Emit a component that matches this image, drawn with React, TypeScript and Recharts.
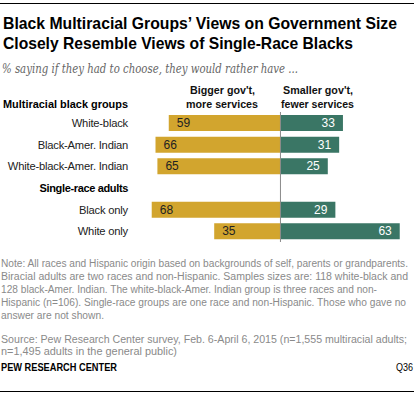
import React from 'react';
import { BarChart, Bar, XAxis, YAxis, ReferenceLine, LabelList } from 'recharts';

const categories = [
  'White-black',
  'Black-Amer. Indian',
  'White-black-Amer. Indian',
  'Single-race adults',
  'Black only',
  'White only',
];
const biggerGov: (number | null)[] = [59, 66, 65, null, 68, 35];
const smallerGov: (number | null)[] = [33, 31, 25, null, 29, 63];
const groupHeaders = ['Multiracial black groups', 'Single-race adults'];
const biggerHeader = ["Bigger gov't,", 'more services'];
const smallerHeader = ["Smaller gov't,", 'fewer services'];
const titleLines = [
  'Black Multiracial Groups\u2019 Views on Government Size',
  'Closely Resemble Views of Single-Race Blacks',
];
const subtitle = '% saying if they had to choose, they would rather have ...';
const noteLines = [
  'Note: All races and Hispanic origin based on backgrounds of self, parents or grandparents.',
  'Biracial adults are two races and non-Hispanic. Samples sizes are: 118 white-black and',
  '128 black-Amer. Indian. The white-black-Amer. Indian group is three races and non-',
  'Hispanic (n=106). Single-race groups are one race and non-Hispanic. Those who gave no',
  'answer are not shown.',
];
const noteWidths = [407, 407, 376, 405, 103];
const sourceLines = [
  'Source: Pew Research Center survey, Feb. 6-April 6, 2015 (n=1,555 multiracial adults;',
  'n=1,495 adults in the general public)',
];
const sourceWidths = [406, 176];
const footerLeft = 'PEW RESEARCH CENTER';
const footerRight = 'Q36';

const GOLD = '#D2A52E';
const GREEN = '#3A7665';
const FONT = '"Liberation Sans", Arial, sans-serif';

const data = categories.map((c, i) => ({
  name: c,
  bigger: biggerGov[i] == null ? null : -(biggerGov[i] as number),
  smaller: smallerGov[i],
  biggerLabel: biggerGov[i],
  smallerLabel: smallerGov[i],
}));

const CategoryTick = (props: any) => {
  const { x, y, payload } = props;
  const isHeader = groupHeaders.includes(payload.value);
  return (
    <text
      x={x}
      y={y}
      dy={4}
      textAnchor="end"
      fontFamily={FONT}
      fontSize={isHeader ? 11 : 11.2}
      letterSpacing={isHeader ? -0.35 : -0.2}
      fontWeight={isHeader ? 700 : 400}
      fill={isHeader ? '#000' : '#222'}
    >
      {payload.value}
    </text>
  );
};

const leftLabel = (p: any) => {
  if (p.value == null) return null;
  const left = Math.min(p.x, p.x + p.width);
  return (
    <text x={left + 8} y={p.y + p.height / 2 + 4} fontFamily={FONT} fontSize={12} fill="#222">
      {p.value}
    </text>
  );
};

const rightLabel = (p: any) => {
  if (p.value == null) return null;
  const right = Math.max(p.x, p.x + p.width);
  return (
    <text x={right - 8} y={p.y + p.height / 2 + 4} textAnchor="end" fontFamily={FONT} fontSize={12} fill="#fff">
      {p.value}
    </text>
  );
};

const hdr = { fontFamily: FONT, fontWeight: 700, fontSize: 11.5, fill: '#111' } as const;

export default function App() {
  return (
    <div style={{ position: 'absolute', left: 0, top: 0, width: 415, height: 395, background: '#fff' }}>
      <div style={{ position: 'absolute', left: 0, top: 0 }}>
        <BarChart
          width={415}
          height={395}
          data={data}
          layout="vertical"
          stackOffset="sign"
          margin={{ top: 112, right: 2, bottom: 153, left: 0 }}
        >
          <XAxis type="number" domain={[-80, 70]} hide allowDataOverflow />
          <YAxis
            type="category"
            dataKey="name"
            width={129}
            axisLine={false}
            tickLine={false}
            tickSize={0}
            tickMargin={1}
            interval={0}
            tick={<CategoryTick />}
          />
          <Bar dataKey="bigger" stackId="a" fill={GOLD} barSize={16} isAnimationActive={false}>
            <LabelList dataKey="biggerLabel" content={leftLabel} />
          </Bar>
          <Bar dataKey="smaller" stackId="a" fill={GREEN} barSize={16} isAnimationActive={false}>
            <LabelList dataKey="smallerLabel" content={rightLabel} />
          </Bar>
          <ReferenceLine x={0} stroke="#8a8a8a" strokeWidth={1} />
        </BarChart>
      </div>
      <svg
        width={415}
        height={395}
        style={{ position: 'absolute', left: 0, top: 0, pointerEvents: 'none' }}
      >
        <line x1={0} x2={414} y1={3.5} y2={3.5} stroke="#000" strokeWidth={1.2} />
        <text x={3} y={29.3} fontFamily={FONT} fontWeight={700} fontSize={16.5} fill="#000" textLength={394} lengthAdjust="spacingAndGlyphs">
          {titleLines[0]}
        </text>
        <text x={3} y={49} fontFamily={FONT} fontWeight={700} fontSize={16.5} fill="#000" textLength={350} lengthAdjust="spacingAndGlyphs">
          {titleLines[1]}
        </text>
        <text x={2} y={72.5} fontFamily='Georgia, "DejaVu Serif", serif' fontStyle="italic" fontSize={12} fill="#666" textLength={296} lengthAdjust="spacingAndGlyphs">
          {subtitle}
        </text>
        <text x={190} y={94} {...hdr} textLength={65} lengthAdjust="spacingAndGlyphs">
          {biggerHeader[0]}
        </text>
        <text x={186} y={107.7} {...hdr} textLength={72} lengthAdjust="spacingAndGlyphs">
          {biggerHeader[1]}
        </text>
        <text x={283} y={94} {...hdr} textLength={70} lengthAdjust="spacingAndGlyphs">
          {smallerHeader[0]}
        </text>
        <text x={281} y={107.7} {...hdr} textLength={73} lengthAdjust="spacingAndGlyphs">
          {smallerHeader[1]}
        </text>
        <text x={3} y={107.7} fontFamily={FONT} fontWeight={700} fontSize={11.5} fill="#000" textLength={125} lengthAdjust="spacingAndGlyphs">
          {groupHeaders[0]}
        </text>
        {noteLines.map((t, i) => (
          <text key={i} x={1} y={267.3 + i * 12.9} fontFamily={FONT} fontSize={10} fill="#8a8a8a" textLength={noteWidths[i]} lengthAdjust="spacingAndGlyphs">
            {t}
          </text>
        ))}
        {sourceLines.map((t, i) => (
          <text key={i} x={1} y={342.7 + i * 12.4} fontFamily={FONT} fontSize={10} fill="#8a8a8a" textLength={sourceWidths[i]} lengthAdjust="spacingAndGlyphs">
            {t}
          </text>
        ))}
        <text x={1} y={371} fontFamily={FONT} fontWeight={700} fontSize={10.5} fill="#000" textLength={116} lengthAdjust="spacingAndGlyphs">
          {footerLeft}
        </text>
        <text x={396} y={371} fontFamily={FONT} fontSize={10.5} fill="#000" textLength={17} lengthAdjust="spacingAndGlyphs">
          {footerRight}
        </text>
        <line x1={0} x2={414} y1={391.5} y2={391.5} stroke="#000" strokeWidth={1.2} />
      </svg>
    </div>
  );
}
